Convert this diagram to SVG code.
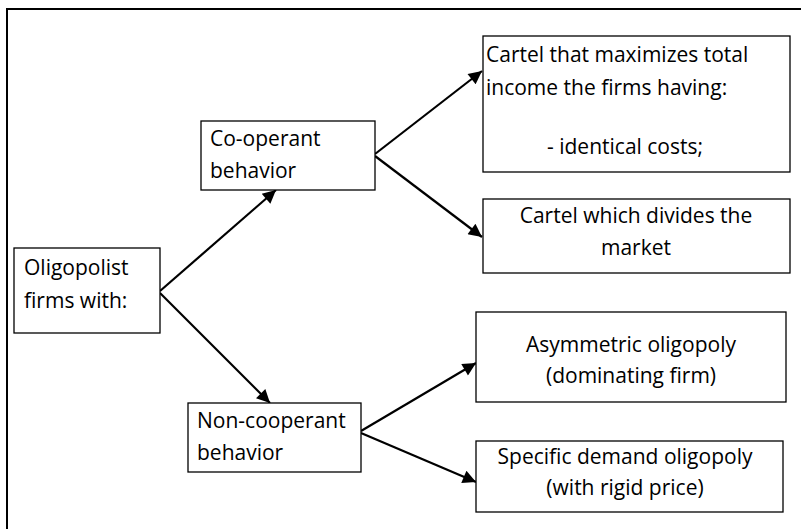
<svg xmlns="http://www.w3.org/2000/svg" width="801" height="529" viewBox="0 0 801 529">
<defs>
<style>
.box{fill:#fff;stroke:#000;stroke-width:1.3}
.t{font-family:"Open Sans","Liberation Sans",sans-serif;font-size:21px;fill:#000}
.c{text-anchor:middle}
.e{stroke:#000;stroke-width:2.2;fill:none;marker-end:url(#ah)}
</style>
<marker id="ah" viewBox="0 0 10 10" refX="10" refY="5" markerWidth="7.5" markerHeight="6" markerUnits="strokeWidth" orient="auto">
<path d="M0,0 L10,5 L0,10 z" fill="#000"/>
</marker>
</defs>
<rect width="801" height="529" fill="#fff"/>
<rect x="7" y="9" width="900" height="600" fill="none" stroke="#000" stroke-width="2"/>
<g id="connectors">
<line class="e" x1="160" y1="291" x2="276" y2="190"/>
<line class="e" x1="160" y1="293" x2="270" y2="403"/>
<line class="e" x1="375" y1="154" x2="482" y2="71"/>
<line class="e" x1="375" y1="156" x2="482" y2="237"/>
<line class="e" x1="361" y1="431" x2="476" y2="363"/>
<line class="e" x1="361" y1="433" x2="476" y2="482"/>
</g>
<g id="oligopolist">
<rect class="box" x="14" y="248" width="146" height="85"/>
<text class="t" x="24" y="275">Oligopolist</text>
<text class="t" x="24" y="308">firms with:</text>
</g>
<g id="cooperant">
<rect class="box" x="201" y="121" width="174" height="69"/>
<text class="t" x="210" y="146">Co-operant</text>
<text class="t" x="210" y="178">behavior</text>
</g>
<g id="noncooperant">
<rect class="box" x="188" y="403" width="173" height="69"/>
<text class="t" x="197" y="428">Non-cooperant</text>
<text class="t" x="197" y="460">behavior</text>
</g>
<g id="cartel-max">
<rect class="box" x="483" y="36" width="307" height="136"/>
<text class="t" x="486" y="62">Cartel that maximizes total</text>
<text class="t" x="486" y="95">income the firms having:</text>
<text class="t" x="547" y="154">- identical costs;</text>
</g>
<g id="cartel-divides">
<rect class="box" x="483" y="199" width="307" height="74"/>
<text class="t c" x="636" y="223">Cartel which divides the</text>
<text class="t c" x="636" y="255">market</text>
</g>
<g id="asymmetric">
<rect class="box" x="476" y="312" width="310" height="90"/>
<text class="t c" x="631" y="352">Asymmetric oligopoly</text>
<text class="t c" x="631" y="383">(dominating firm)</text>
</g>
<g id="specific">
<rect class="box" x="476" y="441" width="307" height="71"/>
<text class="t c" x="625" y="464">Specific demand oligopoly</text>
<text class="t c" x="625" y="495">(with rigid price)</text>
</g>
</svg>
